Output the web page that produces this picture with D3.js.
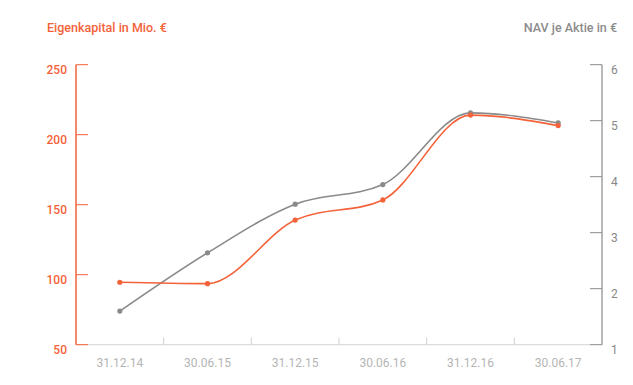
<!DOCTYPE html>
<html>
<head>
<meta charset="utf-8">
<script src="https://cdn.jsdelivr.net/npm/d3@7"></script>
<style>
    body { margin: 0; background: #fff; }
    svg { display: block; font-family: Roboto, sans-serif; }
</style>
</head>
<body>
<div id="chart"></div>
<script>
    'use strict';

    // Data
    var dates = ['31.12.14', '30.06.15', '31.12.15', '30.06.16', '31.12.16', '30.06.17'],
        equity = [94.6, 93.6, 139, 153.4, 214, 206.5],
        nav = [1.6, 2.64, 3.51, 3.86, 5.14, 4.96],
        equityTicks = [50, 100, 150, 200, 250],
        navTicks = [1, 2, 3, 4, 5, 6];

    (function () {
        var width = 633,
            height = 385,
            plotLeft = 76,
            plotRight = 602,
            plotTop = 64.7,
            plotBottom = 344.7,
            orange = '#f4623a',
            grey = '#8a8a8a';

        var svg = d3.select('#chart').append('svg')
            .attr('width', width)
            .attr('height', height);

        var x = d3.scaleBand().domain(dates).range([plotLeft, plotRight]),
            yL = d3.scaleLinear().domain([50, 250]).range([plotBottom, plotTop]),
            yR = d3.scaleLinear().domain([1, 6]).range([plotBottom, plotTop]);

        // x axis
        svg.append('line')
            .attr('x1', plotLeft).attr('x2', plotRight - 12)
            .attr('y1', plotBottom).attr('y2', plotBottom)
            .attr('stroke', '#dcdcdc').attr('stroke-width', 1.2);

        svg.selectAll('.xtick')
            .data(dates.slice(1))
            .enter()
            .append('line')
            .attr('class', 'xtick')
            .attr('x1', function (d) { return x(d); })
            .attr('x2', function (d) { return x(d); })
            .attr('y1', plotBottom)
            .attr('y2', plotBottom - 7)
            .attr('stroke', '#cfcfcf');

        svg.selectAll('.xlabel')
            .data(dates)
            .enter()
            .append('text')
            .attr('class', 'xlabel')
            .attr('x', function (d) { return x(d) + x.bandwidth() / 2; })
            .attr('y', 367)
            .attr('text-anchor', 'middle')
            .attr('font-size', 12)
            .attr('fill', '#b5b5b5')
            .text(function (d) { return d; });

        // left axis
        svg.append('line')
            .attr('x1', plotLeft).attr('x2', plotLeft)
            .attr('y1', plotTop).attr('y2', plotBottom)
            .attr('stroke', orange).attr('stroke-width', 1.5);

        svg.selectAll('.ltick')
            .data(equityTicks)
            .enter()
            .append('line')
            .attr('class', 'ltick')
            .attr('x1', plotLeft)
            .attr('x2', plotLeft + 12)
            .attr('y1', function (d) { return yL(d); })
            .attr('y2', function (d) { return yL(d); })
            .attr('stroke', orange);

        svg.selectAll('.llabel')
            .data(equityTicks)
            .enter()
            .append('text')
            .attr('class', 'llabel')
            .attr('x', 67)
            .attr('y', function (d) { return yL(d) + 9.5; })
            .attr('text-anchor', 'end')
            .attr('font-size', 12)
            .attr('font-weight', 500)
            .attr('fill', orange)
            .text(function (d) { return d; });

        // right axis
        svg.append('line')
            .attr('x1', plotRight).attr('x2', plotRight)
            .attr('y1', plotTop).attr('y2', plotBottom)
            .attr('stroke', grey).attr('stroke-width', 1.2);

        svg.selectAll('.rtick')
            .data(navTicks)
            .enter()
            .append('line')
            .attr('class', 'rtick')
            .attr('x1', plotRight)
            .attr('x2', plotRight - 12)
            .attr('y1', function (d) { return yR(d); })
            .attr('y2', function (d) { return yR(d); })
            .attr('stroke', grey);

        svg.selectAll('.rlabel')
            .data(navTicks)
            .enter()
            .append('text')
            .attr('class', 'rlabel')
            .attr('x', 611)
            .attr('y', function (d) { return yR(d) + 9.5; })
            .attr('font-size', 12)
            .attr('fill', '#888')
            .text(function (d) { return d; });

        // titles
        svg.append('text')
            .attr('x', 47).attr('y', 32)
            .attr('font-size', 12.5)
            .attr('font-weight', 500)
            .attr('fill', orange)
            .text('Eigenkapital in Mio. €');

        svg.append('text')
            .attr('x', 617).attr('y', 32)
            .attr('text-anchor', 'end')
            .attr('font-size', 12.5)
            .attr('font-weight', 500)
            .attr('fill', '#8c8c8c')
            .text('NAV je Aktie in €');

        // lines
        var cx = function (d, i) { return x(dates[i]) + x.bandwidth() / 2; };

        var series = [
            { values: nav, y: yR, color: grey },
            { values: equity, y: yL, color: orange }
        ];

        series.forEach(function (s) {
            var line = d3.line()
                .x(cx)
                .y(function (d) { return s.y(d); })
                .curve(d3.curveMonotoneX);

            svg.append('path')
                .datum(s.values)
                .attr('d', line)
                .attr('fill', 'none')
                .attr('stroke', s.color)
                .attr('stroke-width', 1.6);

            svg.selectAll(null)
                .data(s.values)
                .enter()
                .append('circle')
                .attr('cx', cx)
                .attr('cy', function (d) { return s.y(d); })
                .attr('r', 2.6)
                .attr('fill', s.color);
        });
    })();
</script>
</body>
</html>
